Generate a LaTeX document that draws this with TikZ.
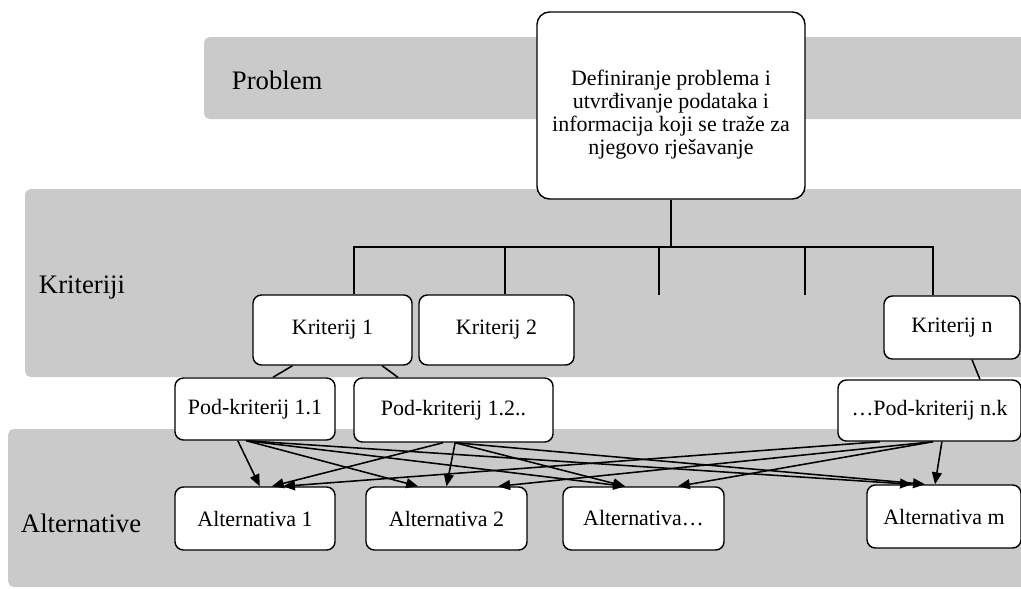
\documentclass[tikz,border=0pt]{standalone}
\usepackage{fontspec}
\setmainfont{Liberation Serif}
\usetikzlibrary{positioning, arrows.meta, calc}
\definecolor{bandgray}{HTML}{CACACA}

\begin{document}
\begin{tikzpicture}[
  x=0.025cm, y=-0.025cm,
  band/.style = {fill=bandgray, rounded corners=4pt},
  lvl/.style  = {font=\fontsize{19}{22}\selectfont, anchor=west},
  box/.style  = {draw, fill=white, line width=1pt, rounded corners=6pt, align=center, inner sep=2pt, font=\fontsize{15.6}{16.4}\selectfont},
  tree/.style = {line width=1.1pt},
  arr/.style  = {line width=1.1pt, -{Triangle[length=8.5pt, width=7pt]}},
]
\useasboundingbox (0,0) rectangle (1021,588);
% level bands
\fill[band] (204,37) rectangle (1030,119);
\fill[band] (25,189) rectangle (1030,377);
\fill[band] (8,429) rectangle (1030,587);
\node[lvl] (lprob) at (227,80) {Problem};
\node[lvl] (lkrit) at (34,287) {Kriteriji};
\node[lvl] (lalt) at (16,523) {Alternative};
% problem
\node[box, minimum width=6.7cm, minimum height=4.675cm, rounded corners=9pt] (top) at (671,105.5)
  {\rule{0pt}{24pt}Definiranje problema i\\utvrđivanje podataka i\\informacija koji se traže za\\njegovo rješavanje};
% criteria
\node[box, minimum width=3.975cm, minimum height=1.75cm] (k1) at (332.5,330) {Kriterij 1};
\node[box, minimum width=3.875cm, minimum height=1.75cm] (k2) at (496.5,330) {Kriterij 2};
\node[box, minimum width=3.4cm, minimum height=1.575cm] (kn) at (952,327.5) {Kriterij n};
% sub-criteria
\node[box, minimum width=4cm, minimum height=1.55cm] (p11) at (255,409) {Pod-kriterij 1.1};
\node[box, minimum width=4.975cm, minimum height=1.6cm] (p12) at (453.5,410) {Pod-kriterij 1.2..};
\node[box, minimum width=4.575cm, minimum height=1.525cm] (pnk) at (929.5,410.5) {…Pod-kriterij n.k};
% alternatives
\node[box, minimum width=4cm, minimum height=1.575cm] (a1) at (255,518.5) {Alternativa 1};
\node[box, minimum width=4.025cm, minimum height=1.575cm] (a2) at (446.5,518.5) {Alternativa 2};
\node[box, minimum width=4.025cm, minimum height=1.575cm] (a3) at (643.5,518.5) {Alternativa…};
\node[box, minimum width=3.85cm, minimum height=1.575cm] (am) at (944,516.5) {Alternativa m};
% tree problem -> criteria
\coordinate (bar) at (671,247);
\coordinate (k1in) at ([xshift=0.54cm]k1.north);
\coordinate (k2in) at ([xshift=0.21cm]k2.north);
\coordinate (knin) at ([xshift=-0.48cm]kn.north);
\coordinate (free1) at (659,295);
\coordinate (free2) at (805,295);
\draw[tree] (top.south) -- (bar);
\draw[tree] (k1in) |- (bar) -| (knin);
\foreach \c in {k2in, free1, free2}
  \draw[tree] (\c) -- (\c |- bar);
% criteria -> sub-criteria
\draw[tree] ([xshift=-1cm]k1.south) -- ([xshift=0.45cm]p11.north);
\draw[tree] ([xshift=1.24cm]k1.south) -- ([xshift=-1.39cm]p12.north);
\draw[tree] ([xshift=0.5cm]kn.south) -- ([xshift=1.26cm]pnk.north);
% sub-criteria -> alternatives
\coordinate (p11a) at ([xshift=-0.43cm]p11.south);
\coordinate (p11b) at ([xshift=-0.22cm]p11.south);
\coordinate (p12a) at ([xshift=-0.26cm]p12.south);
\coordinate (p12b) at ([xshift=0.04cm]p12.south);
\coordinate (pnka) at ([xshift=-1.24cm]pnk.south);
\coordinate (pnkb) at ([xshift=0.09cm]pnk.south);
\coordinate (pnkc) at ([xshift=0.31cm]pnk.south);
\coordinate (a1a) at ([xshift=0.12cm]a1.north);
\coordinate (a1b) at ([xshift=0.42cm]a1.north);
\coordinate (a1c) at ([xshift=0.7cm]a1.north);
\coordinate (a2a) at ([xshift=-0.71cm]a2.north);
\coordinate (a2b) at (a2.north);
\coordinate (a2c) at ([xshift=1.29cm]a2.north);
\coordinate (a3a) at ([xshift=-0.46cm]a3.north);
\coordinate (a3b) at ([xshift=0.86cm]a3.north);
\coordinate (ama) at ([xshift=-0.8cm]am.north);
\coordinate (amb) at ([xshift=-0.475cm]am.north);
\coordinate (amc) at ([xshift=-0.225cm]am.north);
\foreach \s/\t in {p11a/a1a, p11b/a2a, p11b/a3a, p11b/ama,
                   p12a/a1b, p12b/a2b, p12b/a3a, p12b/amb,
                   pnka/a1c, pnkb/a2c, pnkb/a3b, pnkc/amc}
  \draw[arr] (\s) -- (\t);
\end{tikzpicture}
\end{document}
